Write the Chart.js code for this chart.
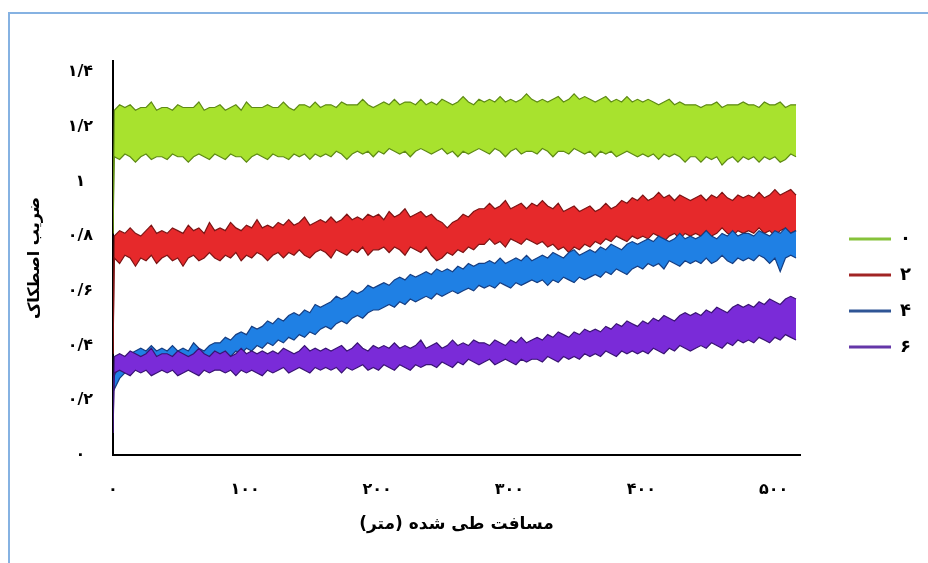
<!DOCTYPE html>
<html>
<head>
<meta charset="utf-8">
<script src="https://cdn.jsdelivr.net/npm/chart.js"></script>
<style>
  body { margin: 0; background: #fff; }
  #frame { position: absolute; left: 8px; top: 12px; width: 960px; height: 600px;
           border-left: 2px solid #86b2e2; border-top: 2px solid #86b2e2; }
  #myChart { position: absolute; left: 0; top: 0; }
</style>
</head>
<body>
<div id="frame"></div>
<canvas id="myChart" width="928" height="563"></canvas>
<script>
// series labels (legend) and axis ticks
var seriesLabels = ['۰', '۲', '۴', '۶'];
var xTicks = [0, 100, 200, 300, 400, 500];
var yTicks = [0, 0.2, 0.4, 0.6, 0.8, 1, 1.2, 1.4];

// readings every 4 m starting at 1 m; first reading at 0 m is the start-up value
var xStart = 1, xStep = 4;
var startValues = [0.81, 0.37, 0.26, 0.08];

// band edges (upper / lower of each noisy trace)
var upper0 = [
  1.26,1.28,1.27,1.28,1.26,1.27,1.27,1.29,1.26,1.27,
  1.27,1.26,1.28,1.27,1.27,1.27,1.29,1.26,1.27,1.27,
  1.28,1.26,1.27,1.28,1.26,1.29,1.27,1.27,1.27,1.28,
  1.27,1.27,1.29,1.27,1.26,1.28,1.28,1.27,1.29,1.27,
  1.28,1.28,1.27,1.29,1.28,1.28,1.28,1.30,1.28,1.27,
  1.28,1.29,1.28,1.30,1.28,1.29,1.29,1.28,1.30,1.28,
  1.29,1.28,1.30,1.29,1.28,1.29,1.31,1.29,1.28,1.30,
  1.29,1.30,1.29,1.31,1.29,1.30,1.29,1.30,1.32,1.30,
  1.29,1.30,1.29,1.30,1.31,1.29,1.30,1.32,1.30,1.31,
  1.30,1.29,1.30,1.31,1.29,1.30,1.29,1.31,1.29,1.30,
  1.29,1.30,1.29,1.28,1.29,1.30,1.28,1.29,1.28,1.28,
  1.28,1.27,1.28,1.28,1.29,1.27,1.28,1.28,1.28,1.29,
  1.28,1.28,1.27,1.29,1.28,1.28,1.29,1.27,1.28,1.28
];
var lower0 = [
  1.09,1.08,1.10,1.09,1.07,1.09,1.10,1.08,1.09,1.09,
  1.08,1.10,1.09,1.09,1.07,1.09,1.10,1.09,1.08,1.10,
  1.09,1.08,1.10,1.09,1.09,1.07,1.09,1.10,1.09,1.08,
  1.10,1.09,1.09,1.08,1.10,1.09,1.10,1.08,1.10,1.09,
  1.10,1.09,1.11,1.10,1.08,1.10,1.11,1.10,1.11,1.09,
  1.11,1.10,1.12,1.11,1.10,1.11,1.09,1.11,1.12,1.11,
  1.10,1.11,1.12,1.10,1.11,1.09,1.11,1.10,1.11,1.12,
  1.11,1.10,1.12,1.11,1.09,1.11,1.12,1.10,1.11,1.11,
  1.10,1.12,1.11,1.09,1.11,1.11,1.10,1.12,1.11,1.10,
  1.11,1.09,1.11,1.10,1.11,1.09,1.10,1.11,1.10,1.09,
  1.10,1.09,1.10,1.08,1.10,1.09,1.10,1.09,1.07,1.09,
  1.09,1.07,1.09,1.08,1.09,1.06,1.08,1.09,1.07,1.09,
  1.08,1.09,1.07,1.09,1.08,1.09,1.07,1.08,1.10,1.09
];
var upper2 = [
  0.80,0.82,0.81,0.83,0.81,0.80,0.82,0.84,0.81,0.82,
  0.81,0.83,0.82,0.81,0.84,0.82,0.83,0.81,0.85,0.82,
  0.83,0.82,0.85,0.83,0.82,0.84,0.83,0.86,0.83,0.84,
  0.83,0.85,0.84,0.86,0.84,0.85,0.87,0.84,0.85,0.86,
  0.85,0.87,0.85,0.86,0.88,0.86,0.87,0.86,0.88,0.87,
  0.88,0.86,0.89,0.87,0.88,0.90,0.87,0.88,0.89,0.87,
  0.88,0.86,0.85,0.83,0.85,0.86,0.88,0.87,0.89,0.90,
  0.90,0.92,0.90,0.91,0.93,0.90,0.91,0.92,0.90,0.92,
  0.91,0.93,0.91,0.90,0.92,0.89,0.90,0.91,0.89,0.90,
  0.91,0.89,0.90,0.92,0.90,0.91,0.93,0.92,0.94,0.93,
  0.95,0.93,0.94,0.96,0.94,0.95,0.93,0.95,0.94,0.93,
  0.94,0.95,0.93,0.95,0.94,0.96,0.94,0.93,0.95,0.94,
  0.95,0.94,0.96,0.94,0.95,0.97,0.95,0.96,0.97,0.95
];
var lower2 = [
  0.72,0.70,0.73,0.72,0.69,0.72,0.71,0.73,0.70,0.72,
  0.73,0.71,0.72,0.69,0.72,0.73,0.71,0.72,0.74,0.72,
  0.71,0.73,0.72,0.74,0.71,0.73,0.72,0.74,0.73,0.71,
  0.73,0.74,0.72,0.74,0.73,0.75,0.73,0.72,0.74,0.75,
  0.74,0.72,0.75,0.74,0.73,0.75,0.74,0.76,0.73,0.75,
  0.75,0.76,0.74,0.76,0.75,0.73,0.76,0.75,0.74,0.76,
  0.73,0.71,0.72,0.74,0.73,0.75,0.74,0.76,0.75,0.77,
  0.77,0.79,0.77,0.78,0.76,0.79,0.78,0.77,0.79,0.78,
  0.77,0.78,0.76,0.77,0.75,0.76,0.74,0.76,0.75,0.77,
  0.76,0.78,0.77,0.79,0.78,0.80,0.79,0.78,0.80,0.79,
  0.80,0.79,0.81,0.80,0.78,0.80,0.81,0.79,0.81,0.80,
  0.81,0.80,0.82,0.80,0.81,0.83,0.81,0.80,0.82,0.81,
  0.82,0.81,0.83,0.81,0.82,0.80,0.82,0.83,0.81,0.82
];
var upper4 = [
  0.29,0.33,0.35,0.37,0.38,0.39,0.38,0.40,0.38,0.39,
  0.38,0.40,0.38,0.39,0.38,0.41,0.39,0.38,0.40,0.41,
  0.41,0.43,0.42,0.44,0.45,0.44,0.47,0.46,0.47,0.49,
  0.48,0.50,0.49,0.51,0.52,0.51,0.53,0.52,0.55,0.54,
  0.55,0.56,0.58,0.57,0.58,0.60,0.59,0.60,0.62,0.61,
  0.62,0.63,0.62,0.64,0.65,0.64,0.66,0.65,0.66,0.67,
  0.66,0.68,0.67,0.68,0.67,0.69,0.68,0.70,0.69,0.70,
  0.70,0.71,0.70,0.72,0.70,0.71,0.72,0.71,0.73,0.71,
  0.72,0.73,0.72,0.74,0.73,0.72,0.74,0.75,0.73,0.74,
  0.75,0.74,0.76,0.75,0.77,0.76,0.75,0.77,0.78,0.77,
  0.78,0.79,0.78,0.80,0.79,0.78,0.79,0.81,0.79,0.80,
  0.79,0.80,0.82,0.80,0.79,0.81,0.80,0.82,0.80,0.81,
  0.81,0.80,0.82,0.81,0.80,0.82,0.81,0.83,0.81,0.82
];
var lower4 = [
  0.24,0.28,0.30,0.32,0.33,0.34,0.33,0.34,0.35,0.34,
  0.34,0.35,0.34,0.35,0.34,0.35,0.36,0.35,0.36,0.35,
  0.36,0.37,0.36,0.38,0.37,0.39,0.38,0.40,0.39,0.41,
  0.40,0.42,0.41,0.43,0.42,0.44,0.43,0.45,0.44,0.46,
  0.47,0.46,0.48,0.49,0.48,0.50,0.51,0.50,0.52,0.53,
  0.53,0.54,0.55,0.54,0.56,0.55,0.57,0.56,0.57,0.58,
  0.57,0.59,0.58,0.59,0.60,0.59,0.60,0.61,0.60,0.62,
  0.61,0.62,0.61,0.63,0.62,0.61,0.63,0.62,0.63,0.64,
  0.63,0.64,0.62,0.64,0.63,0.65,0.64,0.63,0.65,0.64,
  0.65,0.66,0.65,0.67,0.66,0.68,0.67,0.66,0.68,0.69,
  0.68,0.70,0.69,0.70,0.68,0.71,0.70,0.69,0.71,0.70,
  0.71,0.70,0.72,0.70,0.71,0.73,0.71,0.70,0.72,0.71,
  0.72,0.71,0.73,0.72,0.70,0.72,0.67,0.72,0.73,0.72
];
var upper6 = [
  0.36,0.37,0.36,0.38,0.37,0.36,0.37,0.39,0.36,0.37,
  0.37,0.36,0.38,0.37,0.36,0.37,0.39,0.37,0.36,0.38,
  0.37,0.38,0.36,0.37,0.39,0.37,0.38,0.37,0.38,0.37,
  0.38,0.37,0.39,0.38,0.37,0.38,0.40,0.38,0.39,0.38,
  0.39,0.38,0.39,0.40,0.38,0.39,0.41,0.39,0.38,0.40,
  0.39,0.40,0.39,0.41,0.39,0.40,0.39,0.40,0.42,0.39,
  0.40,0.41,0.39,0.40,0.42,0.40,0.41,0.40,0.42,0.41,
  0.41,0.40,0.42,0.41,0.40,0.42,0.41,0.43,0.41,0.42,
  0.43,0.42,0.44,0.43,0.45,0.44,0.43,0.45,0.44,0.46,
  0.45,0.46,0.45,0.47,0.46,0.48,0.47,0.49,0.48,0.47,
  0.49,0.48,0.50,0.49,0.51,0.50,0.49,0.51,0.52,0.51,
  0.52,0.51,0.53,0.52,0.54,0.53,0.52,0.54,0.55,0.54,
  0.55,0.54,0.56,0.55,0.57,0.56,0.55,0.57,0.58,0.57
];
var lower6 = [
  0.30,0.31,0.30,0.29,0.31,0.30,0.31,0.29,0.30,0.31,
  0.30,0.31,0.29,0.30,0.31,0.30,0.29,0.31,0.30,0.31,
  0.31,0.30,0.31,0.29,0.31,0.30,0.31,0.30,0.29,0.31,
  0.30,0.31,0.32,0.30,0.31,0.32,0.31,0.30,0.32,0.31,
  0.32,0.31,0.32,0.30,0.32,0.31,0.32,0.33,0.31,0.32,
  0.31,0.33,0.32,0.31,0.33,0.32,0.31,0.33,0.32,0.33,
  0.33,0.32,0.34,0.33,0.32,0.34,0.33,0.35,0.34,0.33,
  0.34,0.35,0.33,0.34,0.35,0.34,0.33,0.35,0.34,0.35,
  0.35,0.34,0.36,0.35,0.34,0.36,0.35,0.36,0.35,0.37,
  0.36,0.37,0.36,0.38,0.37,0.36,0.38,0.37,0.38,0.37,
  0.38,0.37,0.39,0.38,0.37,0.39,0.38,0.40,0.39,0.38,
  0.39,0.40,0.39,0.41,0.40,0.39,0.41,0.40,0.42,0.41,
  0.42,0.41,0.43,0.42,0.41,0.43,0.42,0.44,0.43,0.42
];

var uppers = [upper0, upper2, upper4, upper6];
var lowers = [lower0, lower2, lower4, lower6];
var fillColors = ['#a8e22e', '#e6292b', '#1f80e4', '#7a2bd8'];
var edgeColors = ['#5e8a14', '#7c1414', '#163e82', '#3a1474'];
var legendColors = ['#86c23a', '#a12424', '#2f5595', '#6437a8'];

var faDigits = ['۰','۱','۲','۳','۴','۵','۶','۷','۸','۹'];
function toFa(v) {
  return String(v).replace(/\d/g, function (d) { return faDigits[d]; }).replace('.', '/');
}

function toPoints(vals, k) {
  var pts = [{x: 0, y: startValues[k]}];
  vals.forEach(function (y, i) { pts.push({x: xStart + i * xStep, y: y}); });
  return pts;
}

var datasets = [];
for (var k = 0; k < 4; k++) {
  datasets.push({
    label: seriesLabels[k],
    data: toPoints(uppers[k], k),
    fill: '+1',
    backgroundColor: fillColors[k],
    borderColor: edgeColors[k],
    borderWidth: 1.2,
    pointRadius: 0,
    order: 7 - 2 * k
  });
  datasets.push({
    label: seriesLabels[k] + '-',
    data: toPoints(lowers[k], k),
    fill: false,
    backgroundColor: fillColors[k],
    borderColor: edgeColors[k],
    borderWidth: 1.2,
    pointRadius: 0,
    order: 6 - 2 * k
  });
}

var boldFont = { family: "'DejaVu Sans', sans-serif", size: 16, weight: 'bold' };

var ctx = document.getElementById('myChart').getContext('2d');
var chart = new Chart(ctx, {
  type: 'line',
  data: { datasets: datasets },
  options: {
    responsive: false,
    animation: false,
    layout: { padding: { left: 25, right: 7, top: 51, bottom: 28 } },
    plugins: {
      tooltip: { enabled: false },
      legend: {
        position: 'right',
        labels: {
          boxWidth: 42,
          boxHeight: 3,
          padding: 18,
          color: '#000',
          font: { family: "'DejaVu Sans', sans-serif", size: 18, weight: 'bold' },
          generateLabels: function () {
            return seriesLabels.map(function (t, k) {
              return { text: t, fillStyle: legendColors[k], strokeStyle: legendColors[k],
                       lineWidth: 0, datasetIndex: 2 * k, hidden: false };
            });
          }
        }
      }
    },
    scales: {
      x: {
        type: 'linear',
        min: 0,
        max: 520,
        grid: { display: false, drawTicks: false },
        border: { color: '#000', width: 2 },
        afterBuildTicks: function (s) { s.ticks = xTicks.map(function (v) { return {value: v}; }); },
        afterFit: function (s) { s.height = 80; },
        ticks: { padding: 25, color: '#000', font: boldFont, maxRotation: 0,
                 callback: function (v) { return toFa(v); } },
        title: { display: true, text: 'مسافت طی شده (متر)', color: '#000',
                 font: { family: "'DejaVu Sans', sans-serif", size: 17, weight: 'bold' },
                 padding: { top: 0, bottom: 0 } }
      },
      y: {
        min: 0,
        max: 1.44,
        grid: { display: false, drawTicks: false },
        border: { color: '#000', width: 2 },
        afterBuildTicks: function (s) { s.ticks = yTicks.map(function (v) { return {value: v}; }); },
        // paddingTop is measured from the canvas top, so the plot starts lower than the legend box
        afterFit: function (s) { s.width = 88; s.paddingTop = 61; },
        ticks: { padding: 20, color: '#000', font: boldFont, crossAlign: 'center',
                 callback: function (v) { return toFa(+v.toFixed(1)); } },
        title: { display: true, text: 'ضریب اصطکاک', color: '#000',
                 font: { family: "'DejaVu Sans', sans-serif", size: 16, weight: 'bold' },
                 padding: { top: 0, bottom: 18 } }
      },
      // empty right-hand axis: keeps the gap between the plot and the legend
      gap: {
        position: 'right',
        grid: { display: false, drawTicks: false },
        border: { display: false },
        ticks: { display: false },
        afterFit: function (s) { s.width = 31; }
      }
    }
  }
});
</script>
</body>
</html>
